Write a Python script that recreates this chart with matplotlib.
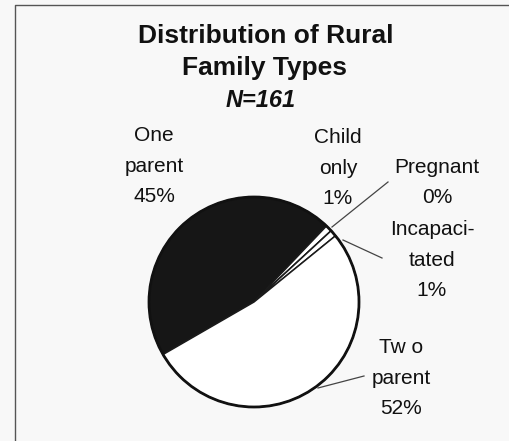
import matplotlib
matplotlib.use("Agg")
import matplotlib.pyplot as plt
from matplotlib.patches import Circle

# Family types, listed clockwise from the dark slice
categories = ["One\nparent", "Child\nonly", "Pregnant", "Incapaci-\ntated", "Tw o\nparent"]
percents = [45, 1, 0, 1, 52]
fills = ["#161616", "#ffffff", "#ffffff", "#ffffff", "#ffffff"]

title_lines = ["Distribution of Rural", "Family Types"]
subtitle = "N=161"

W, H = 510, 441
BG = "#f8f8f8"
INK = "#111111"

plt.rcParams["font.family"] = ["Liberation Sans", "DejaVu Sans"]

fig = plt.figure(figsize=(W / 100, H / 100), dpi=100, facecolor=BG)
ax = fig.add_axes([0, 0, 1, 1])
ax.set_facecolor(BG)


def py(y):
    """Convert a top-down pixel row into the axes' y coordinate."""
    return H - y


cx, cy, r = 254, py(302), 105
wedges, _ = ax.pie(
    percents,
    colors=fills,
    startangle=210,
    counterclock=False,
    center=(cx, cy),
    radius=r,
    frame=True,
    wedgeprops=dict(edgecolor="#1a1a1a", linewidth=1.1),
)
ax.add_patch(Circle((cx, cy), r, fill=False, edgecolor=INK, linewidth=2.0, zorder=5))

ax.set_xlim(0, W)
ax.set_ylim(0, H)
ax.set_aspect("equal")
ax.axis("off")

# Frame around the panel (extends past the right and bottom edges)
ax.plot([15, 15, W + 5], [py(H + 5), py(5), py(5)], color="#555555", lw=1.0)

# Title block (baselines in pixel rows)
ax.text(266, py(43), title_lines[0], ha="center", va="baseline", fontsize=19,
        fontweight="bold", color=INK)
ax.text(265, py(75), title_lines[1], ha="center", va="baseline", fontsize=19,
        fontweight="bold", color=INK)
ax.text(261, py(107), subtitle, ha="center", va="baseline", fontsize=17,
        fontweight="bold", style="italic", color=INK)

# Slice labels: (x centre, baseline of first line) in pixel space
label_pos = [(154, 141), (338, 143), (437, 173), (432, 235), (401, 353)]
line_gap = 30.5
for name, pct, (lx, ly) in zip(categories, percents, label_pos):
    lines = name.split("\n") + [f"{pct}%"]
    for i, s in enumerate(lines):
        ax.text(lx, py(ly + i * line_gap), s, ha="center", va="baseline",
                fontsize=15, color=INK)

# Leader lines for the labels set away from their slices
leaders = [((332, 227), (388, 182)), ((343, 240), (382, 258)), ((318, 388), (364, 376))]
for (x0, y0), (x1, y1) in leaders:
    ax.plot([x0, x1], [py(y0), py(y1)], color="#444444", lw=0.9, zorder=6)

fig.savefig("out.png", dpi=100, facecolor=BG)
